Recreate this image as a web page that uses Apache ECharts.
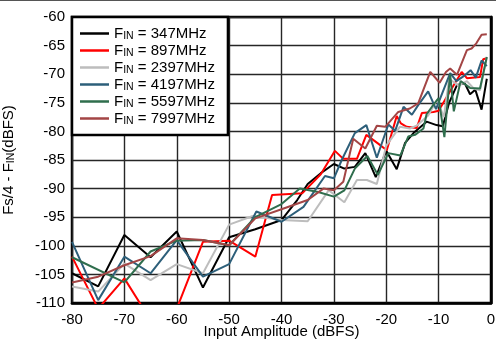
<!DOCTYPE html>
<html>
<head>
<meta charset="utf-8">
<script src="https://cdn.jsdelivr.net/npm/echarts@6/dist/echarts.min.js"></script>
<style>
html,body{margin:0;padding:0;background:#fff;}
#c{width:496px;height:345px;}
</style>
</head>
<body>
<div id="c"></div>
<script>
// ---- data (x = input amplitude dBFS, y = Fs/4 - Fin dBFS) ----
const xTicks = [-80, -70, -60, -50, -40, -30, -20, -10, 0];
const yTicks = [-110, -105, -100, -95, -90, -85, -80, -75, -70, -65, -60];
const seriesNames = ['347MHz', '897MHz', '2397MHz', '4197MHz', '5597MHz', '7997MHz'];

const fin347 = [[-80,-104.8],[-75,-107.1],[-70,-98.1],[-65,-102],[-60,-97.5],[-55,-107.3],[-50,-98.5],[-45,-97.1],[-40,-95.5],[-37,-92],[-35,-89.2],[-32.5,-87.3],[-30,-85.7],[-28,-86.5],[-26,-86.2],[-24,-83.8],[-22,-88],[-20,-83.4],[-18,-86.6],[-16.4,-82],[-14.8,-80.3],[-12.3,-78.3],[-10.4,-78.9],[-9.2,-79.1],[-8,-75],[-6.5,-71.9],[-5,-71.6],[-4,-73.5],[-3,-72.7],[-1.8,-76.2],[-0.8,-70.8]];
const fin897 = [[-80,-101.9],[-75,-111],[-70,-105.7],[-65,-113],[-60,-111],[-55,-99.3],[-50,-99.1],[-45,-101.9],[-41.8,-91.1],[-36,-90.8],[-32.5,-87.5],[-29.8,-83.4],[-28.2,-84.8],[-25.6,-84.8],[-23.8,-80.6],[-21.6,-82.1],[-19.9,-83.3],[-18,-77.3],[-17.2,-78.6],[-16.1,-79.2],[-14.2,-79.4],[-13.2,-76.8],[-11,-76.6],[-10,-76.4],[-7.5,-72.5],[-5.6,-69.6],[-4.6,-70.7],[-2.1,-70.5],[-1.5,-67.4],[-0.8,-67.2]];
const fin2397 = [[-80,-107.1],[-75,-108],[-70,-103.1],[-65,-106],[-60,-103.2],[-55,-104.8],[-50,-96.3],[-45.5,-94.8],[-40,-95.5],[-35,-95.7],[-31,-90.3],[-28,-92.4],[-25.6,-88.5],[-23.7,-88.5],[-21.8,-89.2],[-20,-82.5],[-17.4,-79.2],[-15.5,-79.5],[-14.2,-79],[-12,-77.2],[-10.3,-74.5],[-9,-77.5],[-8,-70.8],[-6.2,-72],[-4.6,-71.2],[-3.3,-72.5],[-2.1,-72.8],[-0.8,-67]];
const fin4197 = [[-80,-99.3],[-75,-109.5],[-70,-101.9],[-65,-104.8],[-60,-99],[-55,-105.4],[-50,-103.2],[-44.8,-94],[-40,-95.8],[-35.8,-93.2],[-31.7,-87.8],[-30,-88.2],[-28.5,-85],[-26,-80.3],[-23.8,-78.9],[-21.8,-84.6],[-19.6,-78.8],[-18.3,-79.9],[-16.7,-75.7],[-15.1,-77.1],[-13.9,-75.4],[-12,-73],[-10.5,-76.1],[-7.8,-69.8],[-6.6,-71.2],[-5,-70.2],[-3.9,-69.3],[-2.9,-70.6],[-1.8,-67.6],[-0.8,-68.6]];
const fin5597 = [[-80,-102],[-70,-106.4],[-65,-101],[-60,-99.1],[-55,-99],[-50,-99.9],[-45,-95],[-40,-92.7],[-36.5,-90],[-33,-90.6],[-30,-91.4],[-28,-90.3],[-26,-86.5],[-23.6,-84.3],[-21.6,-87.6],[-19.6,-83.8],[-17.3,-84.2],[-15.8,-80.9],[-14.5,-80.6],[-12.9,-79.5],[-12.3,-77],[-11.2,-75.6],[-10,-74.2],[-8.9,-81],[-7.8,-70],[-7.1,-76.5],[-5.8,-71.2],[-4,-72.4],[-2.1,-72.5],[-0.8,-67]];
const fin7997 = [[-80,-106.4],[-75,-105.4],[-70,-103.4],[-65,-101.8],[-60,-98.7],[-55,-99],[-50,-99.9],[-45,-95.2],[-40,-93.6],[-35,-92],[-32,-90],[-30,-90.3],[-28.2,-88.8],[-26.3,-81.3],[-24,-83],[-21.8,-79],[-20.2,-79.2],[-17.7,-76.6],[-15.5,-76],[-13.9,-75.1],[-11.6,-69.6],[-9.8,-71.5],[-8.6,-69.6],[-7.8,-69],[-6.5,-70.1],[-4.6,-65.8],[-3.7,-65.5],[-2.8,-64.6],[-1.8,-63.1],[-0.8,-63]];

const seriesData = [fin347, fin897, fin2397, fin4197, fin5597, fin7997];
const colors = ['#000000', '#ff0000', '#bdbdbd', '#2d5f7a', '#2f6e4d', '#a34545'];

const FONT = 'Liberation Sans, Arial, Helvetica, sans-serif';
const chart = echarts.init(document.getElementById('c'), null, {renderer: 'canvas'});

const series = seriesNames.map((n, i) => ({
  name: n,
  type: 'line',
  data: seriesData[i],
  showSymbol: false,
  symbol: 'none',
  clip: true,
  z: 2 + i,
  lineStyle: {color: colors[i], width: 2},
  itemStyle: {color: colors[i]},
  emphasis: {disabled: true}
}));

const richText = {
  a: {fontFamily: FONT, fontSize: 15, color: '#000', lineHeight: 17, verticalAlign: 'middle'},
  s: {fontFamily: FONT, fontSize: 10.5, color: '#000', lineHeight: 8, verticalAlign: 'bottom'}
};

chart.setOption({
  animation: false,
  backgroundColor: '#ffffff',
  textStyle: {fontFamily: FONT},
  graphic: [{
    type: 'line', silent: true,
    shape: {x1: 0, y1: 0.5, x2: 496, y2: 0.5},
    style: {stroke: '#555', lineWidth: 1}
  }],
  grid: {left: 72, right: 5, top: 17, bottom: 42, containLabel: false, outerBoundsMode: 'none',
         show: true, borderColor: '#000', borderWidth: 2.5, backgroundColor: 'transparent'},
  legend: {
    orient: 'vertical',
    left: 72, top: 17,
    padding: [8, 13, 8, 8],
    backgroundColor: '#ffffff',
    borderColor: '#000', borderWidth: 2.5,
    itemWidth: 29, itemHeight: 2.5, itemGap: 0,
    icon: 'rect',
    data: seriesNames,
    formatter: n => '{a|F}{s|IN}{a| = ' + n + '}',
    textStyle: {fontFamily: FONT, color: '#000', fontSize: 15, lineHeight: 17, rich: richText}
  },
  xAxis: {
    type: 'value', min: xTicks[0], max: xTicks[xTicks.length - 1], interval: 10,
    name: 'Input Amplitude (dBFS)', nameLocation: 'middle', nameGap: 21, nameMoveOverlap: false,
    nameTextStyle: {fontFamily: FONT, fontSize: 15, color: '#000'},
    axisLine: {show: true, lineStyle: {color: '#000', width: 2.5}},
    axisTick: {show: false},
    axisLabel: {fontFamily: FONT, fontSize: 15, color: '#000', margin: 9},
    splitLine: {show: true, lineStyle: {color: '#262626', width: 1.4}}
  },
  yAxis: {
    type: 'value', min: yTicks[0], max: yTicks[yTicks.length - 1], interval: 5,
    name: '{a|Fs/4 - F}{s|IN}{a|(dBFS)}', nameLocation: 'middle', nameGap: 55, nameRotate: 90, nameMoveOverlap: false,
    nameTextStyle: {fontFamily: FONT, fontSize: 15, color: '#000', lineHeight: 17, rich: richText},
    axisLine: {show: true, lineStyle: {color: '#000', width: 2.5}},
    axisTick: {show: false},
    axisLabel: {fontFamily: FONT, fontSize: 15, color: '#000', margin: 7},
    splitLine: {show: true, lineStyle: {color: '#262626', width: 1.4}}
  },
  series: series
});
</script>
</body>
</html>
